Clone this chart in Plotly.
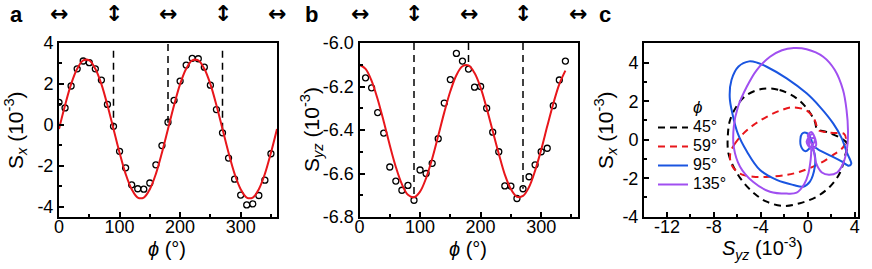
import plotly.graph_objects as go

# ---------------- data ----------------
# panel a : S_x vs phi
phi_a = [0, 10, 20, 30, 40, 50, 60, 70, 80, 90, 100, 110, 120, 130, 140, 150, 160, 170, 180,
         190, 200, 210, 220, 230, 240, 250, 260, 270, 280, 290, 300, 310, 320, 330, 340, 350]
sx_meas = [1.10, 0.83, 1.90, 2.74, 3.12, 3.04, 2.74, 2.19, 1.00, -0.07, -1.29, -2.10, -2.93, -3.12,
           -3.14, -2.84, -1.95, -1.01, 0.13, 1.20, 2.14, 2.92, 3.25, 3.23, 2.82, 1.94, 0.75, -0.39,
           -1.62, -2.65, -3.43, -3.91, -3.86, -3.45, -2.70, -1.41]
phi_fit_a = [0, 10, 20, 30, 40, 50, 60, 70, 80, 90, 100, 110, 120, 130, 140, 150, 160, 170, 180,
             190, 200, 210, 220, 230, 240, 250, 260, 270, 280, 290, 300, 310, 320, 330, 340, 350, 360]
sx_fit = [-0.20, 0.96, 1.99, 2.74, 3.15, 3.15, 2.74, 1.99, 0.96, -0.20, -1.36, -2.39, -3.14, -3.55,
          -3.55, -3.14, -2.39, -1.36, -0.20, 0.96, 1.99, 2.74, 3.15, 3.15, 2.74, 1.99, 0.96, -0.20,
          -1.36, -2.39, -3.14, -3.55, -3.55, -3.14, -2.39, -1.36, -0.20]
dash_phi = [90, 180, 270]
dash_a_top = [3.62, 3.95, 3.62]
dash_a_bot = [-0.07, 0.10, -0.31]

# panel b : S_yz vs phi
phi_b = [10, 20, 30, 40, 50, 60, 70, 80, 90, 100, 110, 120, 130, 140, 150, 160, 170, 180,
         190, 200, 210, 220, 230, 240, 250, 260, 270, 280, 290, 300, 310, 320, 330, 340]
syz_meas = [-6.160, -6.206, -6.320, -6.414, -6.570, -6.635, -6.677, -6.655, -6.723, -6.584, -6.600,
            -6.553, -6.440, -6.276, -6.168, -6.048, -6.083, -6.120, -6.203, -6.200, -6.300, -6.410,
            -6.500, -6.657, -6.658, -6.715, -6.670, -6.615, -6.560, -6.500, -6.484, -6.288, -6.170,
            -6.083]
phi_fit_b = [0, 10, 20, 30, 40, 50, 60, 70, 80, 90, 100, 110, 120, 130, 140, 150, 160, 170, 180,
             190, 200, 210, 220, 230, 240, 250, 260, 270, 280, 290, 300, 310, 320, 330, 340]
syz_fit = [-6.100, -6.119, -6.174, -6.259, -6.361, -6.470, -6.570, -6.649, -6.698, -6.709, -6.683,
           -6.621, -6.532, -6.427, -6.319, -6.222, -6.148, -6.107, -6.103, -6.138, -6.205, -6.300,
           -6.405, -6.509, -6.605, -6.672, -6.707, -6.703, -6.662, -6.587, -6.491, -6.383, -6.279,
           -6.189, -6.127]
dash_b_top = [-6.0, -6.0, -6.0]
dash_b_bot = [-6.707, -6.095, -6.67]

# panel c : trajectories (S_yz, S_x)
c45_x = [-3.8, -2.4, -0.95, 0.03, 0.6, 0.8, 1.6, 2.6, 3.35, 3.15, 2.73, 1.88, 0.75, -0.67, -2.09,
         -3.5, -4.5, -5.5, -6.19, -6.76, -6.8, -6.62, -6.0, -5.2, -3.8]
c45_y = [2.65, 2.58, 2.15, 1.54, 0.94, 0.55, 0.4, 0.15, -0.2, -0.88, -1.73, -2.44, -2.96, -3.3, -3.44,
         -3.22, -2.82, -2.2, -1.57, -0.71, 0.33, 1.02, 1.8, 2.32, 2.65]
c59_x = [-6.6, -6.2, -5.62, -4.64, -3.5, -2.37, -1.3, -0.05, 0.6, 0.9, 1.5, 2.2, 3.1, 3.25, 3.0,
         2.16, 1.03, -0.67, -1.8, -3.22, -4.64, -5.8, -6.5, -6.6]
c59_y = [-0.7, -0.2, 0.24, 0.76, 1.19, 1.51, 1.68, 1.5, 1.0, 0.5, 0.4, 0.35, 0.3, 0.0, -0.4,
         -0.79, -1.23, -1.66, -1.83, -1.92, -1.92, -1.75, -1.3, -0.7]
c95_x = [0.3, 0.6, 0.6, 0.18, -0.39, -1.24, -2.65, -4.07, -5.2, -5.95, -6.4, -6.65, -6.5, -5.9,
         -5.0, -4.3, -3.5, -1.8, -0.1, 1.03, 2.16, 2.87, 3.35, 3.7, 3.5, 2.8, 2.0, 1.0, 0.4, -0.2,
         -0.6, -0.5, -0.1, 0.3, 0.4]
c95_y = [-0.3, -0.8, -1.4, -2.18, -2.44, -2.35, -2.09, -1.57, -0.6, 0.3, 1.3, 2.2, 3.1, 3.8,
         4.07, 4.0, 3.79, 3.19, 2.41, 1.71, 0.85, 0.1, -0.7, -1.25, -1.35, -1.1, -0.85, -0.55, -0.35,
         -0.6, -0.3, 0.3, 0.35, 0.0, -0.4]
c135_x = [0.3, 0.25, 0.05, -0.3, -0.95, -1.8, -3.22, -4.64, -5.77, -6.3, -6.3, -5.95, -5.2, -4.35,
          -3.22, -2.2, -1.2, -0.1, 1.31, 2.3, 3.0, 3.3, 3.42, 3.35, 3.0, 2.5, 1.8, 1.2, 0.7, 0.55,
          0.4, 0.0, 0.3, 0.6, 0.2, -0.1, 0.4, 0.7, 0.3, 0.1, 0.5]
c135_y = [-0.5, -1.0, -1.75, -2.3, -2.75, -2.8, -2.7, -2.2, -1.4, -0.4, 0.7, 1.7, 2.75, 3.62,
          4.31, 4.65, 4.76, 4.7, 4.31, 3.62, 2.58, 1.54, 0.5, -0.4, -1.25, -1.7, -1.82, -1.7, -1.2,
          -0.7, -0.3, 0.2, 0.4, 0.0, -0.4, -0.1, 0.3, -0.3, -0.5, 0.0, 0.1]
c_names = ["45°", "59°", "95°", "135°"]
c_colors = ["black", "#e8161b", "#1a55e0", "#a04ff0"]
c_dash = ["7px,5px", "7px,5px", "solid", "solid"]

# ticks
ax_a_vals = [0, 100, 200, 300]
ax_a_text = ["0", "100", "200", "300"]
ay_a_vals = [-4, -2, 0, 2, 4]
ay_a_text = ["-4", "-2", "0", "2", "4"]
ay_b_vals = [-6.8, -6.6, -6.4, -6.2, -6.0]
ay_b_text = ["-6.8", "-6.6", "-6.4", "-6.2", "-6.0"]
cx_vals = [-12, -8, -4, 0, 4]
cx_text = ["-12", "-8", "-4", "0", "4"]
cy_vals = [-4, -2, 0, 2, 4]
cy_text = ["-4", "-2", "0", "2", "4"]
arrow_phi = [0, 90, 180, 270, 360]
arrow_sym = ["↔", "↕", "↔", "↕", "↔"]

# ---------------- figure ----------------
W, H = 872, 269
FONT = "Liberation Sans, Arial, sans-serif"
fig = go.Figure()

def dashed_lines(xa, ya, tops, bots):
    for p, t, b in zip(dash_phi, tops, bots):
        fig.add_trace(go.Scatter(x=[p, p], y=[t, b], mode="lines", xaxis=xa, yaxis=ya,
                                 line=dict(color="black", width=1.5, dash="7px,5px"),
                                 showlegend=False, hoverinfo="skip"))

dashed_lines("x", "y", dash_a_top, dash_a_bot)
fig.add_trace(go.Scatter(x=phi_a, y=sx_meas, mode="markers", xaxis="x", yaxis="y",
                         marker=dict(symbol="circle-open", size=6, color="black", line=dict(width=1.3)),
                         showlegend=False))
fig.add_trace(go.Scatter(x=phi_fit_a, y=sx_fit, mode="lines", xaxis="x", yaxis="y",
                         line=dict(color="#e8161b", width=2, shape="spline"), showlegend=False))

dashed_lines("x2", "y2", dash_b_top, dash_b_bot)
fig.add_trace(go.Scatter(x=phi_b, y=syz_meas, mode="markers", xaxis="x2", yaxis="y2",
                         marker=dict(symbol="circle-open", size=6, color="black", line=dict(width=1.3)),
                         showlegend=False))
fig.add_trace(go.Scatter(x=phi_fit_b, y=syz_fit, mode="lines", xaxis="x2", yaxis="y2",
                         line=dict(color="#e8161b", width=2, shape="spline"), showlegend=False))

for xs, ys, nm, col, ds in zip([c45_x, c59_x, c95_x, c135_x], [c45_y, c59_y, c95_y, c135_y],
                               c_names, c_colors, c_dash):
    fig.add_trace(go.Scatter(x=xs, y=ys, mode="lines", xaxis="x3", yaxis="y3",
                             name="<span style='font-size:16px'>" + nm + "</span>",
                             line=dict(color=col, width=2, dash=ds, shape="spline", smoothing=1.0),
                             showlegend=True))

ydom = [1 - 217 / H, 1 - 43 / H]
common = dict(showline=True, linewidth=2, linecolor="black", mirror=True, ticks="inside",
              ticklen=5, tickwidth=1.5, tickcolor="black", showgrid=False, zeroline=False,
              tickfont=dict(family=FONT, size=18, color="black"), tickmode="array",
              automargin=False)
xcommon = dict(common, ticklabelstandoff=-8)

def minor(d):
    return dict(ticks="inside", ticklen=3, tickwidth=1.5, tickcolor="black", dtick=d, tick0=0, showgrid=False)

fig.update_layout(
    template="none",
    width=W, height=H, margin=dict(l=0, r=0, t=0, b=0, pad=0, autoexpand=False),
    paper_bgcolor="white", plot_bgcolor="white",
    xaxis=dict(domain=[59 / W, 277 / W], range=[0, 360], tickvals=ax_a_vals, ticktext=ax_a_text,
               minor=minor(50), anchor="y", **xcommon),
    yaxis=dict(domain=ydom, range=[-4.5, 4], tickvals=ay_a_vals, ticktext=ay_a_text,
               minor=minor(1), anchor="x", **common),
    xaxis2=dict(domain=[359.5 / W, 577.5 / W], range=[0, 360], tickvals=ax_a_vals, ticktext=ax_a_text,
                minor=minor(50), anchor="y2", **xcommon),
    yaxis2=dict(domain=ydom, range=[-6.8, -6.0], tickvals=ay_b_vals, ticktext=ay_b_text,
                minor=minor(0.1), anchor="x2", **common),
    xaxis3=dict(domain=[644 / W, 858.3 / W], range=[-13.95, 4.3], tickvals=cx_vals, ticktext=cx_text,
                minor=minor(2), anchor="y3", **xcommon),
    yaxis3=dict(domain=[1 - 217.3 / H, 1 - 42.7 / H], range=[-4.03, 5.04], tickvals=cy_vals,
                ticktext=cy_text, minor=minor(1), anchor="x3", **common),
    legend=dict(x=653 / W, y=1 - 113 / H, xanchor="left", yanchor="top", bgcolor="rgba(0,0,0,0)",
                font=dict(family=FONT, size=12, color="black"), itemwidth=30, tracegroupgap=0,
                borderwidth=0),
    showlegend=True,
)

ann = []
def A(x, y, text, size, xref="paper", yref="paper", family=FONT, **kw):
    d = dict(x=x, y=y, xref=xref, yref=yref, text=text, showarrow=False,
             font=dict(family=family, size=size, color="black"), xanchor="center", yanchor="middle")
    d.update(kw)
    ann.append(d)

# panel letters
A(16 / W, 1 - 15 / H, "<b>a</b>", 22)
A(311.7 / W, 1 - 15 / H, "<b>b</b>", 22)
A(605 / W, 1 - 15 / H, "<b>c</b>", 22)
# polarization arrows
for xr in ["x", "x2"]:
    for p, s in zip(arrow_phi, arrow_sym):
        A(p, 1 - 14 / H, "<b>" + s + "</b>", 22, xref=xr, yref="paper", family="DejaVu Sans")
# axis titles
A(167 / W, 1 - 249 / H, "<i>ϕ</i> (°)", 20)
A(468 / W, 1 - 249 / H, "<i>ϕ</i> (°)", 20)
A(762 / W, 1 - 248 / H, "<i>S</i><sub><i>yz</i></sub> (10<sup>-3</sup>)", 20)
A(15 / W, (ydom[0] + ydom[1]) / 2, "S<sub><i>x</i></sub> (10<sup>-3</sup>)", 21, textangle=-90)
A(311 / W, (ydom[0] + ydom[1]) / 2, "S<sub><i>yz</i></sub> (10<sup>-3</sup>)", 21, textangle=-90)
A(605 / W, (ydom[0] + ydom[1]) / 2, "S<sub><i>x</i></sub> (10<sup>-3</sup>)", 21, textangle=-90)
# legend title
A(697 / W, 1 - 108 / H, "<i>ϕ</i>", 17)
fig.update_layout(annotations=ann)

fig.write_html("out.html", config={"displayModeBar": False},
               post_script="document.body.style.margin='0';")
